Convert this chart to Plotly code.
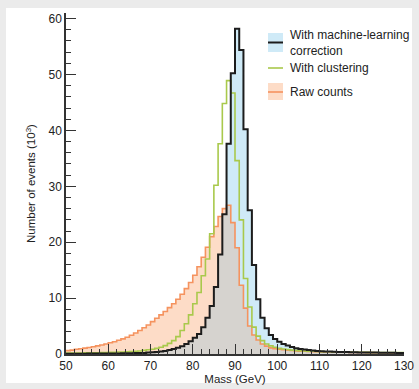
import numpy as np
import plotly.graph_objects as go

# Bin edges (GeV): 1-GeV bins from 50 to 130
bin_lo = list(range(50, 130))

raw_counts = [
    0.6, 0.7, 0.85, 0.95, 1.05, 1.15, 1.3, 1.45, 1.6, 1.8,
    2.0, 2.2, 2.45, 2.7, 3.0, 3.35, 3.75, 4.2, 4.7, 5.2,
    5.8, 6.4, 7.0, 7.6, 8.3, 9.0, 9.8, 10.7, 11.7, 12.8,
    14.1, 15.6, 17.3, 19.1, 21.0, 22.8, 24.6, 26.0, 26.6, 23.5,
    19.0, 12.3, 8.2, 5.0, 3.4, 2.5, 1.8, 1.4, 1.1, 0.95,
    0.85, 0.75, 0.68, 0.62, 0.56, 0.52, 0.48, 0.45, 0.42, 0.40,
    0.38, 0.36, 0.35, 0.33, 0.32, 0.31, 0.30, 0.29, 0.28, 0.27,
    0.26, 0.25, 0.24, 0.23, 0.22, 0.22, 0.21, 0.21, 0.20, 0.20,
]

clustering = [
    0.15, 0.15, 0.15, 0.15, 0.2, 0.2, 0.2, 0.2, 0.25, 0.25,
    0.3, 0.3, 0.35, 0.35, 0.4, 0.45, 0.5, 0.55, 0.65, 0.75,
    0.85, 1.0, 1.2, 1.5, 1.9, 2.4, 3.1, 4.2, 5.4, 7.0,
    9.0, 11.0, 14.0, 17.0, 21.5, 30.2, 37.6, 44.8, 48.9, 46.7,
    34.6, 24.0, 13.5, 8.4, 4.8, 3.2, 2.4, 1.8, 1.45, 1.2,
    1.0, 0.9, 0.8, 0.7, 0.65, 0.6, 0.55, 0.5, 0.48, 0.45,
    0.43, 0.41, 0.39, 0.37, 0.36, 0.35, 0.34, 0.33, 0.32, 0.31,
    0.30, 0.29, 0.28, 0.28, 0.27, 0.27, 0.26, 0.26, 0.25, 0.25,
]

ml_corrected = [
    0.05, 0.05, 0.05, 0.06, 0.06, 0.07, 0.07, 0.08, 0.08, 0.09,
    0.1, 0.1, 0.11, 0.12, 0.13, 0.15, 0.16, 0.18, 0.2, 0.25,
    0.3, 0.35, 0.45, 0.55, 0.7, 0.9, 1.1, 1.4, 1.8, 2.3,
    2.9, 3.6, 4.8, 6.5, 8.6, 12.0, 17.8, 25.0, 37.6, 50.2,
    58.2, 54.4, 40.2, 25.7, 15.9, 9.8, 6.5, 4.6, 3.4, 2.7,
    2.2, 1.8, 1.5, 1.25, 1.05, 0.9, 0.8, 0.7, 0.62, 0.55,
    0.5, 0.46, 0.43, 0.4, 0.38, 0.36, 0.34, 0.32, 0.3, 0.29,
    0.28, 0.27, 0.26, 0.25, 0.24, 0.23, 0.22, 0.21, 0.2, 0.2,
]

x_ticks = [50, 60, 70, 80, 90, 100, 110, 120, 130]
y_ticks = [0, 10, 20, 30, 40, 50, 60]

legend_labels = ["With machine-learning<br>correction", "With clustering", "Raw counts"]

BLUE_FILL = "#cfeaf7"
ORANGE_FILL = "#fddcc7"
GRAY_FILL = "#d6d3cf"
BLACK = "#1c1c1c"
GREEN = "#a9c94c"
ORANGE = "#f5935f"
FONT = "Liberation Sans"

edges = bin_lo + [bin_lo[-1] + 1]


def steps(vals):
    return list(vals) + [vals[-1]]


overlap = np.minimum(np.array(raw_counts), np.array(ml_corrected)).tolist()

fig = go.Figure()
for vals, fc in [(raw_counts, ORANGE_FILL), (ml_corrected, BLUE_FILL), (overlap, GRAY_FILL)]:
    fig.add_trace(go.Scatter(x=edges, y=steps(vals), mode="lines", line=dict(shape="hv", width=0),
                             fill="tozeroy", fillcolor=fc, hoverinfo="skip", showlegend=False))
for vals, lc, w in [(raw_counts, ORANGE, 1.6), (clustering, GREEN, 1.6), (ml_corrected, BLACK, 2.0)]:
    fig.add_trace(go.Scatter(x=edges, y=steps(vals), mode="lines", line=dict(shape="hv", width=w, color=lc),
                             showlegend=False))

W, H = 419, 389
L, R, T, B = 66, 15, 13, 35
pw, ph = W - L - R, H - T - B


def px(xp):
    return (xp - L) / pw


def py(yp):
    return (H - B - yp) / ph


shapes = [
    dict(type="rect", xref="paper", yref="paper", x0=px(6), x1=px(412), y0=py(383), y1=py(8),
         fillcolor="white", line=dict(width=0), layer="below"),
    # legend: ML corrected
    dict(type="rect", xref="paper", yref="paper", x0=px(268), x1=px(283), y0=py(52), y1=py(33),
         fillcolor=BLUE_FILL, line=dict(width=0)),
    dict(type="line", xref="paper", yref="paper", x0=px(268), x1=px(283), y0=py(42.5), y1=py(42.5),
         line=dict(color=BLACK, width=2)),
    # clustering
    dict(type="line", xref="paper", yref="paper", x0=px(268), x1=px(283), y0=py(68), y1=py(68),
         line=dict(color=GREEN, width=1.6)),
    # raw
    dict(type="rect", xref="paper", yref="paper", x0=px(268), x1=px(283), y0=py(100), y1=py(83),
         fillcolor=ORANGE_FILL, line=dict(width=0)),
    dict(type="line", xref="paper", yref="paper", x0=px(268), x1=px(283), y0=py(92), y1=py(92),
         line=dict(color=ORANGE, width=1.6)),
]

LEG_FONT = dict(size=12, color="#222", family=FONT)
annotations = [
    dict(text=legend_labels[0], xref="paper", yref="paper", x=px(288), y=py(42.5), xanchor="left",
         yanchor="middle", showarrow=False, align="left", font=LEG_FONT),
    dict(text=legend_labels[1], xref="paper", yref="paper", x=px(288), y=py(68), xanchor="left",
         yanchor="middle", showarrow=False, font=LEG_FONT),
    dict(text=legend_labels[2], xref="paper", yref="paper", x=px(288), y=py(92), xanchor="left",
         yanchor="middle", showarrow=False, font=LEG_FONT),
]

axis_common = dict(showline=True, linecolor="#333", linewidth=1.5, ticks="inside", ticklen=10,
                   tickwidth=1.2, tickcolor="#333", showgrid=False, zeroline=False, automargin=False,
                   tickfont=dict(size=12, color="#222", family=FONT))

fig.update_layout(
    width=W, height=H, margin=dict(l=L, r=R, t=T, b=B),
    paper_bgcolor="#ebebeb", plot_bgcolor="white",
    showlegend=False, shapes=shapes, annotations=annotations,
    xaxis=dict(range=[50, 130], tickvals=x_ticks, ticktext=[str(v) for v in x_ticks],
               minor=dict(ticks="inside", ticklen=5, tickwidth=1, tickcolor="#333", dtick=2),
               title=dict(text="Mass (GeV)", standoff=2, font=dict(size=11.5, color="#222", family=FONT)),
               **axis_common),
    yaxis=dict(range=[0, 61], tickvals=y_ticks, ticktext=[str(v) for v in y_ticks],
               minor=dict(ticks="inside", ticklen=5, tickwidth=1, tickcolor="#333", dtick=2),
               title=dict(text="Number of events (10<sup>3</sup>)", standoff=10,
                          font=dict(size=11.5, color="#222", family=FONT)),
               **axis_common),
)

fig.write_html("out.html")
